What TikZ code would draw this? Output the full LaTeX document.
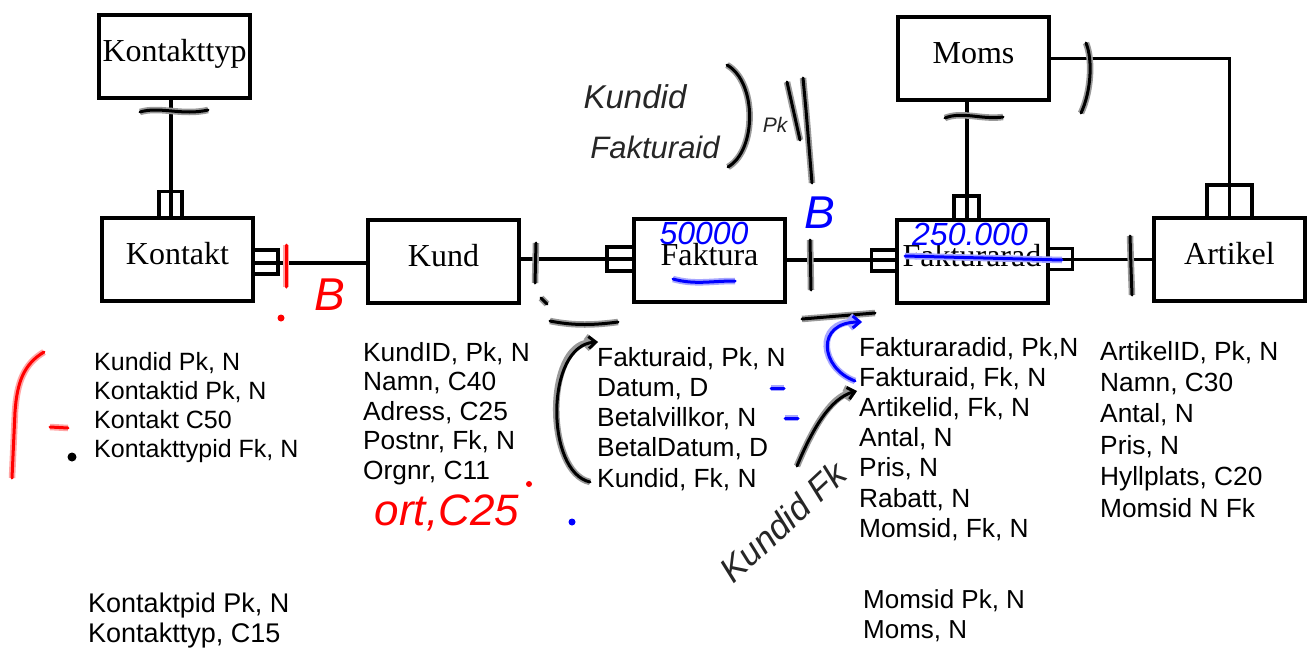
\documentclass[tikz,border=0pt]{standalone}
\usepackage{fontspec}
\setmainfont{Liberation Serif}
\newfontfamily\arial{Liberation Sans}
\usetikzlibrary{calc,arrows.meta}

\begin{document}
\begin{tikzpicture}[x=1pt,y=-1pt,
  entity/.style={draw, line width=4pt, rectangle, minimum width=151pt, minimum height=83pt,
    inner sep=0pt, font=\fontsize{32}{38}\selectfont, text height=21pt, text depth=11pt},
  conn/.style={line width=3.5pt},
  markbox/.style={line width=3.5pt, line join=miter},
  attr/.style={anchor=base west, inner sep=0pt, font=\arial\fontsize{26.3}{30}\selectfont},
  inkK/.style={line width=3pt, black, line cap=round, line join=round,
    preaction={draw=black!40, line width=6.5pt}},
  inkR/.style={line width=3pt, red, line cap=round, line join=round,
    preaction={draw=red!35, line width=6.5pt}},
  inkB/.style={line width=3pt, blue, line cap=round, line join=round,
    preaction={draw=blue!35, line width=6.5pt}},
  handK/.style={inner sep=0pt, text=black!85},
  handR/.style={inner sep=0pt, text=red},
  handB/.style={inner sep=0pt, text=blue},
  barb/.style={-{Straight Barb[length=7pt,width=12pt]}}
]
\useasboundingbox (0,0) rectangle (1311,651);
\fill[white] (0,0) rectangle (1311,651);

% entities
\node[entity] (kt) at (174.5,56.5) {Kontakttyp};
\node[entity] (ko) at (177.5,259) {Kontakt};
\node[entity] (ku) at (443.5,261) {Kund};
\node[entity] (fa) at (709.5,260) {Faktura};
\node[entity] (fr) at (972,261.5) {Fakturarad};
\node[entity] (mo) at (973.5,58.5) {Moms};
\node[entity] (ar) at (1229.5,259.5) {Artikel};

% connectors
\draw[conn] ([xshift=-3.5pt]kt.south) -- ([xshift=-6.5pt]ko.north);
\draw[markbox] ([xshift=-18.5pt]ko.north) -- ++(0,-24) -- ++(23,0) -- ++(0,24);

\draw[conn] ([yshift=-4pt]ko.east) -- ([yshift=-2pt]ku.west);
\draw[markbox] ([yshift=9pt]ko.east) -- ++(23,0) -- ++(0,24) -- ++(-23,0);

\draw[conn] ([yshift=2pt]ku.east) -- ([yshift=1pt]fa.west);
\draw[markbox] ([yshift=13pt]fa.west) -- ++(-25,0) -- ++(0,24) -- ++(25,0);

\coordinate (c4) at (fa.east -| fr.west);
\draw[conn] (fa.east) -- (c4);
\draw[markbox] ([yshift=10pt]c4) -- ++(-23,0) -- ++(0,21) -- ++(23,0);

\coordinate (c5) at (ar.west -| fr.east);
\draw[conn] (c5) -- (ar.west);
\draw[markbox] ([yshift=11pt]c5) -- ++(23,0) -- ++(0,21) -- ++(-23,0);

\draw[conn] ([xshift=-6.5pt]mo.south) -- ([xshift=-5pt]fr.north);
\draw[markbox] ([xshift=-18pt]fr.north) -- ++(0,-22) -- ++(25,0) -- ++(0,22);

\draw[conn] (mo.east) -| (ar.north);
\draw[markbox] ([xshift=-22.5pt]ar.north) -- ++(0,-31) -- ++(45,0) -- ++(0,31);

% attribute lists
\foreach \t [count=\i] in {{Kundid Pk, N},{Kontaktid Pk, N},{Kontakt C50},{Kontakttypid Fk, N}}
  \node[attr, font=\arial\fontsize{25}{30}\selectfont] (kA\i) at (94,{370+29*(\i-1)}) {\t};
\foreach \t [count=\i] in {{Kontaktpid Pk, N},{Kontakttyp, C15}}
  \node[attr, font=\arial\fontsize{27}{30}\selectfont] (tA\i) at (88,{612+30*(\i-1)}) {\t};
\foreach \t [count=\i] in {{KundID, Pk, N},{Namn, C40},{Adress, C25},{Postnr, Fk, N},{Orgnr, C11}}
  \node[attr] (uA\i) at (363,{361+29.5*(\i-1)}) {\t};
\foreach \t [count=\i] in {{Fakturaid, Pk, N},{Datum, D},{Betalvillkor, N},{BetalDatum, D},{Kundid, Fk, N}}
  \node[attr] (fA\i) at (597,{366+30.3*(\i-1)}) {\t};
\foreach \t [count=\i] in {{Fakturaradid, Pk,N},{Fakturaid, Fk, N},{Artikelid, Fk, N},{Antal, N},{Pris, N},{Rabatt, N},{Momsid, Fk, N}}
  \node[attr] (rA\i) at (859,{356+30.2*(\i-1)}) {\t};
\foreach \t [count=\i] in {{Momsid Pk, N},{Moms, N}}
  \node[attr, font=\arial\fontsize{26}{30}\selectfont] (mA\i) at (863,{608+30*(\i-1)}) {\t};
\foreach \t [count=\i] in {{ArtikelID, Pk, N},{Namn, C30},{Antal, N},{Pris, N},{Hyllplats, C20},{Momsid N Fk}}
  \node[attr] (aA\i) at (1100,{360+31.4*(\i-1)}) {\t};

% handwritten annotations: black
\draw[inkK] (140,112) .. controls (160,106) and (182,116) .. (208,110);
\draw[inkK] (945,118) .. controls (962,111) and (982,120) .. (1003,117);
\draw[inkK] (1086,43) .. controls (1093,60) and (1091,92) .. (1081,113);
\draw[inkK] (1130,236) -- (1131,268) -- (1132,295);
\draw[inkK] (536,243) -- (535,283);
\draw[inkK] (541,298) -- (547,304);
\draw[inkK] (550,321) .. controls (575,326) and (595,325) .. (618,322);
\draw[inkK] (810,240) -- (811,290);
\draw[inkK] (802,319) -- (875,313);
\draw[inkK] (727,65) .. controls (757,82) and (757,150) .. (728,167);
\draw[inkK] (787,82) -- (800,140);
\draw[inkK] (803,78) -- (806,110) -- (812,183);
\fill[black] (72,457) circle (4.5pt);
\draw[inkK, barb] (590,482) .. controls (545,472) and (545,345) .. (598,342);
\draw[inkK, barb] (797,466) .. controls (812,430) and (830,398) .. (857,391);

\node[handK, font=\arial\itshape\fontsize{33}{33}\selectfont] (hk1) at (635,97) {Kundid};
\node[handK, font=\arial\itshape\fontsize{31}{31}\selectfont] (hk2) at (655,147) {Fakturaid};
\node[handK, font=\arial\itshape\fontsize{21}{21}\selectfont] (hk3) at (775,125) {Pk};
\node[handK, font=\arial\itshape\fontsize{35}{35}\selectfont, rotate=43] (hk4) at (783,522) {Kundid Fk};

% red
\draw[inkR] (44,352) .. controls (24,364) and (17,382) .. (15,412) -- (12,478);
\draw[inkR] (50,427) -- (68,428);
\draw[inkR] (286,245) -- (286,287);
\fill[red] (281,318) circle (3.5pt);
\fill[red] (529,484) circle (3pt);
\node[handR, font=\arial\itshape\fontsize{46}{46}\selectfont] (hr1) at (330,295) {B};
\node[handR, font=\arial\itshape\fontsize{44}{44}\selectfont] (hr2) at (447,513) {ort,C25};

% blue
\draw[inkB] (673,279) .. controls (695,285) and (710,281) .. (735,281);
\draw[inkB] (905,256) -- (1062,260);
\draw[inkB] (771,388) -- (784,388);
\draw[inkB] (785,418) -- (798,418);
\fill[blue] (572,522) circle (3.5pt);
\draw[inkB, barb] (855,381) .. controls (820,368) and (815,322) .. (862,322);
\node[handB, font=\arial\itshape\fontsize{46}{46}\selectfont] (hb1) at (820,213) {B};
\node[handB, font=\arial\itshape\fontsize{32}{32}\selectfont] (hb2) at (704,233) {50000};
\node[handB, font=\arial\itshape\fontsize{32}{32}\selectfont] (hb3) at (970,234) {250.000};
\end{tikzpicture}
\end{document}
